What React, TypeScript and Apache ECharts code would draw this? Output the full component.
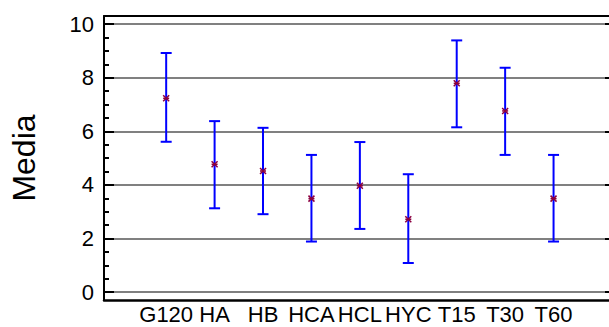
import React, { useEffect, useRef } from "react";
import * as echarts from "echarts";

const categories = ["G120", "HA", "HB", "HCA", "HCL", "HYC", "T15", "T30", "T60"];
const means = [7.23, 4.77, 4.52, 3.49, 3.97, 2.72, 7.79, 6.76, 3.49];
const lows = [5.61, 3.13, 2.91, 1.89, 2.36, 1.09, 6.15, 5.12, 1.89];
const highs = [8.92, 6.38, 6.13, 5.12, 5.6, 4.4, 9.39, 8.37, 5.12];
const yMajorTicks = [0, 2, 4, 6, 8, 10];
const yMinorTicks = [0.5, 1, 1.5, 2.5, 3, 3.5, 4.5, 5, 5.5, 6.5, 7, 7.5, 8.5, 9, 9.5];
const yLabel = "Media";

const FONT = "'Liberation Sans', Arial, sans-serif";

export default function App() {
  const ref = useRef<HTMLDivElement>(null);
  useEffect(() => {
    if (!ref.current) return;
    const chart = echarts.init(ref.current, undefined, { renderer: "svg" });
    const data = categories.map((c, i) => [i, means[i], lows[i], highs[i]]);
    const yRange = { min: -0.29, max: 10.3 };
    chart.setOption({
      animation: false,
      grid: { left: 101, top: 16, right: 0, bottom: 27 },
      xAxis: [
        {
          type: "value",
          min: -1.284,
          max: 9.145,
          position: "bottom",
          axisLine: { show: true, onZero: false, lineStyle: { color: "#000", width: 2.5 } },
          axisTick: { show: false },
          splitLine: { show: false },
          axisLabel: {
            customValues: categories.map((_, i) => i),
            formatter: (v: number) => categories[Math.round(v)] ?? "",
            color: "#000",
            fontSize: 22,
            fontFamily: FONT,
            margin: 3,
          },
        },
        {
          type: "value",
          min: -1.284,
          max: 9.145,
          position: "top",
          axisLine: { show: true, onZero: false, lineStyle: { color: "#000", width: 2 } },
          axisTick: { show: false },
          axisLabel: { show: false },
          splitLine: { show: false },
        },
      ],
      yAxis: [
        {
          type: "value",
          ...yRange,
          position: "left",
          name: yLabel,
          nameLocation: "middle",
          nameRotate: 90,
          nameGap: 64,
          nameTextStyle: { color: "#000", fontSize: 32, fontFamily: FONT },
          axisLine: { show: true, onZero: false, lineStyle: { color: "#000", width: 2 } },
          axisTick: {
            show: true,
            inside: true,
            length: 10,
            customValues: yMajorTicks,
            lineStyle: { color: "#000", width: 2 },
          },
          axisLabel: {
            customValues: yMajorTicks,
            color: "#000",
            fontSize: 22,
            fontFamily: FONT,
            margin: 10,
          },
          splitLine: { show: true, lineStyle: { color: "#808080", width: 2 } },
        },
        {
          type: "value",
          ...yRange,
          position: "left",
          axisLine: { show: false, onZero: false },
          axisTick: {
            show: true,
            inside: true,
            length: 5,
            customValues: yMinorTicks,
            lineStyle: { color: "#000", width: 2 },
          },
          axisLabel: { show: false },
          splitLine: { show: false },
        },
        {
          type: "value",
          ...yRange,
          position: "right",
          axisLine: { show: false, onZero: false },
          axisTick: {
            show: true,
            inside: true,
            length: 4,
            customValues: yMajorTicks,
            lineStyle: { color: "#000", width: 2 },
          },
          axisLabel: { show: false },
          splitLine: { show: false },
        },
      ],
      series: [
        {
          type: "custom",
          xAxisIndex: 0,
          yAxisIndex: 0,
          data,
          encode: { x: 0, y: [1, 2, 3] },
          renderItem: (params: any, api: any) => {
            const x = api.value(0);
            const m = api.coord([x, api.value(1)]);
            const lo = api.coord([x, api.value(2)]);
            const hi = api.coord([x, api.value(3)]);
            const cw = 5.5;
            const blue = { stroke: "#0000FF", lineWidth: 2 };
            const star = { stroke: "#8B0040", lineWidth: 1.5 };
            const s = 3;
            return {
              type: "group",
              children: [
                { type: "line", shape: { x1: lo[0], y1: lo[1], x2: hi[0], y2: hi[1] }, style: blue },
                { type: "line", shape: { x1: lo[0] - cw, y1: lo[1], x2: lo[0] + cw, y2: lo[1] }, style: blue },
                { type: "line", shape: { x1: hi[0] - cw, y1: hi[1], x2: hi[0] + cw, y2: hi[1] }, style: blue },
                { type: "line", shape: { x1: m[0] - s, y1: m[1], x2: m[0] + s, y2: m[1] }, style: star },
                { type: "line", shape: { x1: m[0] - s, y1: m[1] - s, x2: m[0] + s, y2: m[1] + s }, style: star },
                { type: "line", shape: { x1: m[0] - s, y1: m[1] + s, x2: m[0] + s, y2: m[1] - s }, style: star },
              ],
            };
          },
        },
      ],
    });
    return () => chart.dispose();
  }, []);
  return (
    <div
      ref={ref}
      style={{ position: "fixed", left: 0, top: 0, width: 609, height: 327, background: "#fff" }}
    />
  );
}
